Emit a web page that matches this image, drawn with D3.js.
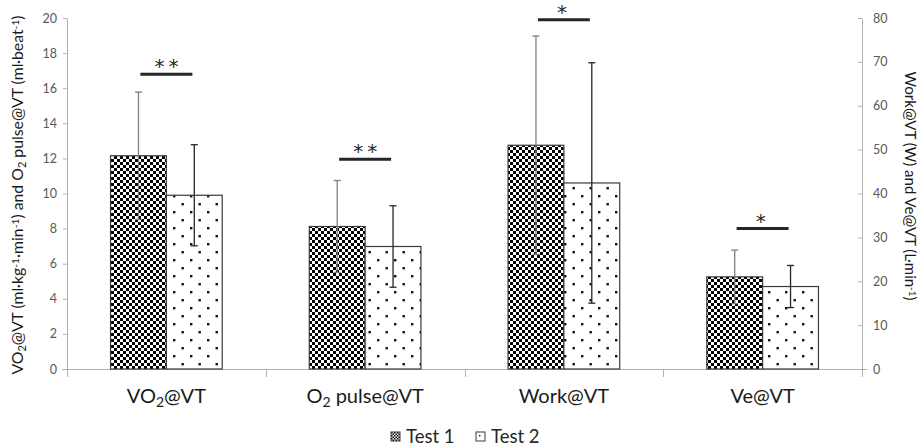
<!DOCTYPE html>
<html>
<head>
<meta charset="utf-8">
<script src="https://cdn.jsdelivr.net/npm/d3@7"></script>
<style>
  html, body { margin: 0; padding: 0; background: #fff; }
  svg { display: block; font-family: Lato, "Open Sans", sans-serif; }
</style>
</head>
<body>
<svg id="chart" width="922" height="448"></svg>
<script>
/* Grouped bar chart, Test 1 vs Test 2, two y axes (left: VO2 / O2 pulse, right: Work / Ve). */
var categories = ["VO2@VT", "O2 pulse@VT", "Work@VT", "Ve@VT"];
var axisOf = ["left", "left", "right", "right"];
var test1Mean = [12.15, 8.12, 51.0, 21.0];
var test1Sd = [3.63, 2.62, 24.9, 6.1];
var test2Mean = [9.9, 6.98, 42.4, 18.8];
var test2Sd = [2.88, 2.32, 27.4, 4.8];
var sigMarks = ["**", "**", "*", "*"];
var sigLevel = [16.8, 11.95, 19.9, 8.0]; // in left-axis units
var leftTicks = [0, 2, 4, 6, 8, 10, 12, 14, 16, 18, 20];
var rightTicks = [0, 10, 20, 30, 40, 50, 60, 70, 80];
var seriesNames = ["Test 1", "Test 2"];

var svg = d3.select("#chart");
var axisGrey = "#b3b3b3";

var x = d3.scaleBand().domain(categories).range([67, 862]).padding(0);
var sub = d3.scaleBand().domain(seriesNames).range([0, x.bandwidth()])
  .paddingInner(0).paddingOuter(0.78);
var yL = d3.scaleLinear().domain([0, 20]).range([369, 18]);
var yR = d3.scaleLinear().domain([0, 80]).range([369, 18]);
function yFor(i) { return axisOf[i] === "left" ? yL : yR; }

// patterns
var defs = svg.append("defs");
function checker(id, s) {
  var p = defs.append("pattern").attr("id", id).attr("patternUnits", "userSpaceOnUse")
    .attr("width", 2 * s).attr("height", 2 * s);
  p.append("rect").attr("width", 2 * s).attr("height", 2 * s).attr("fill", "#fff");
  p.append("rect").attr("width", s).attr("height", s).attr("fill", "#000");
  p.append("rect").attr("x", s).attr("y", s).attr("width", s).attr("height", s).attr("fill", "#000");
}
function dots(id, w, h, d) {
  var p = defs.append("pattern").attr("id", id).attr("patternUnits", "userSpaceOnUse")
    .attr("width", w).attr("height", h);
  p.append("rect").attr("width", w).attr("height", h).attr("fill", "#fff");
  p.append("rect").attr("x", 3).attr("y", 3).attr("width", d).attr("height", d).attr("fill", "#111");
  p.append("rect").attr("x", 3 + w / 2).attr("y", 3 + h / 2).attr("width", d).attr("height", d).attr("fill", "#111");
}
checker("chk", 3);
dots("dot", 17, 16, 2.4);
checker("chkSmall", 1.5);
dots("dotSmall", 6, 6, 1.4);
var fills = ["url(#chk)", "url(#dot)"];

// axes
var gL = svg.append("g").attr("transform", "translate(67,0)")
  .call(d3.axisLeft(yL).tickValues(leftTicks).tickSize(4).tickPadding(6).tickSizeOuter(0));
var gR = svg.append("g").attr("transform", "translate(862,0)")
  .call(d3.axisRight(yR).tickValues(rightTicks).tickSize(-4).tickPadding(11).tickSizeOuter(0));
[gL, gR].forEach(function (g) {
  g.select(".domain").attr("stroke", axisGrey);
  g.selectAll(".tick line").attr("stroke", axisGrey);
  g.selectAll(".tick text").attr("fill", "#595959").attr("font-size", 12.5)
    .attr("font-family", "Lato, sans-serif");
});

// bottom axis line and category separators
svg.append("line").attr("x1", 62).attr("x2", 867).attr("y1", 369.5).attr("y2", 369.5)
  .attr("stroke", axisGrey);
var edges = categories.map(function (c) { return x(c); }).concat([x.range()[1]]);
svg.selectAll("line.sep").data(edges).join("line").attr("class", "sep")
  .attr("x1", function (d) { return Math.round(d) + 0.5; })
  .attr("x2", function (d) { return Math.round(d) + 0.5; })
  .attr("y1", 369).attr("y2", 377).attr("stroke", axisGrey);

// bars
var rows = [];
categories.forEach(function (c, i) {
  rows.push({ c: c, i: i, s: 0, v: test1Mean[i], sd: test1Sd[i] });
  rows.push({ c: c, i: i, s: 1, v: test2Mean[i], sd: test2Sd[i] });
});
svg.append("g").selectAll("rect").data(rows).join("rect")
  .attr("x", function (d) { return x(d.c) + sub(seriesNames[d.s]); })
  .attr("y", function (d) { return yFor(d.i)(d.v); })
  .attr("width", sub.bandwidth())
  .attr("height", function (d) { return yFor(d.i)(0) - yFor(d.i)(d.v); })
  .attr("fill", function (d) { return fills[d.s]; })
  .attr("stroke", "#3a3a3a").attr("stroke-width", 1.2);

// error bars
var eb = svg.append("g").selectAll("g").data(rows).join("g")
  .attr("stroke", function (d) { return d.s === 0 ? "#7f7f7f" : "#262626"; })
  .attr("stroke-width", 1.3);
function cx(d) { return x(d.c) + sub(seriesNames[d.s]) + sub.bandwidth() / 2; }
eb.append("line")
  .attr("x1", cx).attr("x2", cx)
  .attr("y1", function (d) { return yFor(d.i)(d.v + d.sd); })
  .attr("y2", function (d) { return yFor(d.i)(d.v - d.sd); });
[1, -1].forEach(function (sign) {
  eb.append("line")
    .attr("x1", function (d) { return cx(d) - 3.5; })
    .attr("x2", function (d) { return cx(d) + 3.5; })
    .attr("y1", function (d) { return yFor(d.i)(d.v + sign * d.sd); })
    .attr("y2", function (d) { return yFor(d.i)(d.v + sign * d.sd); });
});

// significance markers
var sig = svg.append("g").selectAll("g").data(categories).join("g");
sig.append("line")
  .attr("x1", function (c) { return x(c) + x.bandwidth() / 2 - 26; })
  .attr("x2", function (c) { return x(c) + x.bandwidth() / 2 + 26; })
  .attr("y1", function (c, i) { return yL(sigLevel[i]); })
  .attr("y2", function (c, i) { return yL(sigLevel[i]); })
  .attr("stroke", "#262626").attr("stroke-width", 3);
sig.append("text")
  .attr("x", function (c, i) { return x(c) + x.bandwidth() / 2 + (sigMarks[i].length > 1 ? 2 : 0); })
  .attr("y", function (c, i) { return yL(sigLevel[i]) - 1; })
  .attr("text-anchor", "middle").attr("font-size", 20).attr("letter-spacing", 4)
  .attr("font-family", "'DejaVu Sans', sans-serif")
  .attr("fill", "#262626")
  .text(function (c, i) { return sigMarks[i]; });

// category labels with subscripts
function richText(sel, parts) {
  parts.forEach(function (p) {
    var t = sel.append("tspan").text(p[0]);
    if (p[1] === "sub") t.attr("baseline-shift", "-25%").attr("font-size", "70%");
    if (p[1] === "sup") t.attr("baseline-shift", "40%").attr("font-size", "65%");
  });
}
var catParts = [
  [["VO"], ["2", "sub"], ["@VT"]],
  [["O"], ["2", "sub"], [" pulse@VT"]],
  [["Work@VT"]],
  [["Ve@VT"]]
];
categories.forEach(function (c, i) {
  var t = svg.append("text").attr("x", x(c) + x.bandwidth() / 2).attr("y", 403)
    .attr("text-anchor", "middle").attr("font-size", 20).attr("fill", "#1a1a1a");
  richText(t, catParts[i]);
});

// axis titles
var lt = svg.append("text").attr("transform", "translate(23,195) rotate(-90)")
  .attr("text-anchor", "middle").attr("font-size", 15.8).attr("fill", "#1a1a1a");
richText(lt, [["VO"], ["2", "sub"], ["@VT (ml\u00b7kg"], ["-1", "sup"], ["\u00b7min"], ["-1", "sup"],
  [") and O"], ["2", "sub"], [" pulse@VT (ml\u00b7beat"], ["-1", "sup"], [")"]]);
var rt = svg.append("text").attr("transform", "translate(905,186) rotate(90)")
  .attr("text-anchor", "middle").attr("font-size", 15).attr("fill", "#1a1a1a");
richText(rt, [["Work@VT (W) and Ve@VT (L\u00b7min"], ["-1", "sup"], [")"]]);

// legend
var legendX = [391, 476];
var lg = svg.append("g").selectAll("g").data(seriesNames).join("g")
  .attr("transform", function (d, i) { return "translate(" + legendX[i] + ",432)"; });
lg.append("rect").attr("width", 9).attr("height", 9)
  .attr("fill", function (d, i) { return i === 0 ? "url(#chkSmall)" : "url(#dotSmall)"; })
  .attr("stroke", "#3a3a3a").attr("stroke-width", 1);
lg.append("text").attr("x", 15).attr("y", 10.5).attr("font-size", 18.5).attr("fill", "#262626")
  .text(function (d) { return d; });
</script>
</body>
</html>
